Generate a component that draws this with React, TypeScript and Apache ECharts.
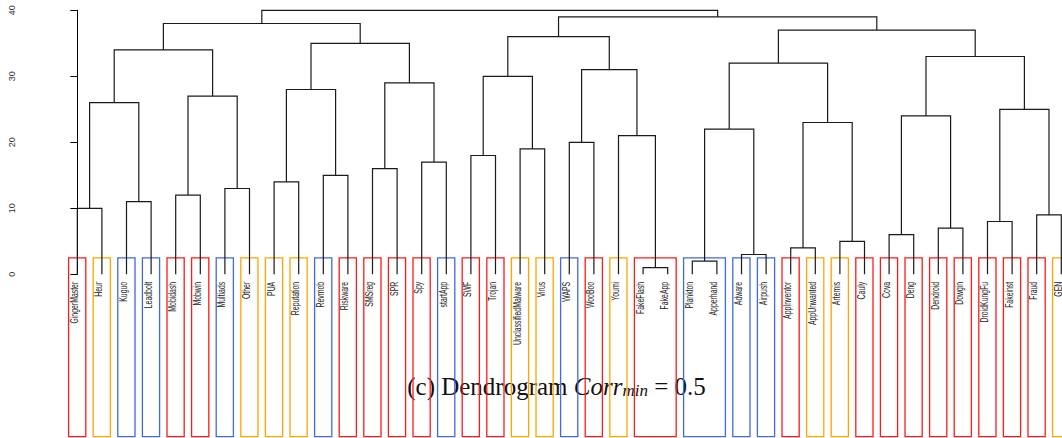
import React, { useEffect, useRef } from "react";
import * as echarts from "echarts";

// Leaves in plotting order
const leafNames = [
  "GingerMaster", "Heur", "Kuguo", "Leadbolt", "Mobidash", "Mobwin", "Multiads", "Other",
  "PUA", "Reputation", "Revmob", "Riskware", "SMSreg", "SPR", "Spy", "startApp",
  "SWF", "Trojan", "UnclassifiedMalware", "Virus", "WAPS", "WooBoo", "Youmi", "FakeFlash",
  "FakeApp", "Plankton", "Apperhand", "Adware", "Airpush", "AppInventor", "AppUnwanted", "Artemis",
  "Cauly", "Cova", "Deng", "Dendroid", "Dowgin", "DroidKungFu", "Fakeinst", "Fraud", "GEN",
];

// R-style merge matrix: negative = leaf (1-based), positive = earlier merge (1-based)
const mergeLeft = [
  -24, -26, -28, -30, -32, -34, -36, -38, -40, -1,
  -3, -5, -7, -9, -11, -13, -15, -17, -19, -21,
  -23, 2, 4, 6, 8, 10, 12, 14, 16, 18,
  20, 22, 24, 26, 28, 30, 32, 34, 36, 38,
];
const mergeRight = [
  -25, -27, -29, -31, -33, -35, -37, -39, -41, -2,
  -4, -6, -8, -10, -12, -14, -16, -18, -20, -22,
  1, 3, 5, 7, 9, 11, 13, 15, 17, 19,
  21, 23, 25, 27, 29, 31, 33, 35, 37, 39,
];
const mergeHeights = [
  1, 2, 3, 4, 5, 6, 7, 8, 9, 10,
  11, 12, 13, 14, 15, 16, 17, 18, 19, 20,
  21, 22, 23, 24, 25, 26, 27, 28, 29, 30,
  31, 32, 33, 34, 35, 36, 37, 38, 39, 40,
];

// Boxes around leaf labels: number of leaves per box and box colour key
const boxSizes = [
  1, 1, 1, 1, 1, 1, 1, 1, 1, 1, 1, 1, 1, 1, 1, 1, 1, 1, 1, 1, 1, 1, 1,
  2, 2,
  1, 1, 1, 1, 1, 1, 1, 1, 1, 1, 1, 1, 1, 1,
];
const boxColorKeys = [
  "red", "orange", "blue", "blue", "red", "red", "blue", "orange", "orange", "orange",
  "blue", "red", "red", "red", "red", "blue", "red", "red", "orange", "orange",
  "blue", "red", "orange", "red", "blue", "blue", "blue", "red", "orange", "orange",
  "red", "red", "red", "red", "red", "red", "red", "red", "orange",
];

const yTicks = [0, 10, 20, 30, 40];

const palette: Record<string, string> = {
  red: "#ff1a1a",
  orange: "#ffa500",
  blue: "#4169e1",
};

export default function App() {
  const ref = useRef<HTMLDivElement>(null);

  useEffect(() => {
    if (!ref.current) return;
    const chart = echarts.init(ref.current, null, { renderer: "svg" });

    // compute node positions (midpoint of children) from merge matrix
    const nodeX: number[] = [];
    const child = (r: number) =>
      r < 0 ? { x: -r - 1, h: 0 } : { x: nodeX[r - 1], h: mergeHeights[r - 1] };
    const treeData: number[][] = [];
    for (let k = 0; k < mergeHeights.length; k++) {
      const a = child(mergeLeft[k]);
      const b = child(mergeRight[k]);
      nodeX[k] = (a.x + b.x) / 2;
      treeData.push([a.x, a.h, b.x, b.h, mergeHeights[k]]);
    }

    const boxData: any[] = [];
    let start = 0;
    boxSizes.forEach((s, i) => {
      boxData.push([start, start + s - 1, i]);
      start += s;
    });

    const labelData = leafNames.map((n, i) => [i, 0]);

    const option: any = {
      animation: false,
      grid: { left: 77.3, right: 0.7, top: 10.3, bottom: 163.7 },
      xAxis: { type: "value", min: 0, max: 40, show: false },
      yAxis: {
        type: "value",
        min: 0,
        max: 40,
        interval: 10,
        offset: 39.6,
        axisLine: { show: true, lineStyle: { color: "#000", width: 1 } },
        axisTick: { show: true, length: 7, lineStyle: { color: "#000" } },
        axisLabel: {
          rotate: 90,
          margin: 21,
          fontSize: 9,
          color: "#333",
          fontFamily: "Liberation Sans",
          formatter: (v: number) => (yTicks.includes(v) ? String(v) : ""),
        },
        splitLine: { show: false },
      },
      series: [
        {
          type: "custom",
          clip: false,
          data: boxData,
          encode: { x: [0, 1] },
          renderItem: (params: any, api: any) => {
            const first = api.value(0);
            const last = api.value(1);
            const idx = api.value(2);
            const x0 = api.coord([first, 0])[0] - 8.7;
            const x1 = api.coord([last, 0])[0] + 8.5;
            const yTop = api.coord([0, 2.5])[1];
            const yBot = api.getHeight() - 1.3;
            return {
              type: "rect",
              shape: { x: x0, y: yTop, width: x1 - x0, height: yBot - yTop },
              style: { fill: "none", stroke: palette[boxColorKeys[idx]], lineWidth: 1.3 },
            };
          },
        },
        {
          type: "custom",
          clip: false,
          data: treeData,
          encode: { x: [0, 2], y: [1, 3, 4] },
          renderItem: (params: any, api: any) => {
            const xa = api.value(0), ha = api.value(1), xb = api.value(2), hb = api.value(3), h = api.value(4);
            const pts = [
              api.coord([xa, ha]),
              api.coord([xa, h]),
              api.coord([xb, h]),
              api.coord([xb, hb]),
            ];
            return {
              type: "polyline",
              shape: { points: pts },
              style: { fill: "none", stroke: "#1a1a1a", lineWidth: 1.2 },
            };
          },
        },
        {
          type: "custom",
          clip: false,
          data: labelData,
          encode: { x: 0, y: 1 },
          renderItem: (params: any, api: any) => {
            const i = api.value(0);
            const p = api.coord([i, 0]);
            return {
              type: "text",
              x: p[0] - 3,
              y: p[1] + 7.5,
              rotation: Math.PI / 2,
              scaleX: 0.69,
              style: {
                text: leafNames[i],
                fontSize: 10,
                fontFamily: "Liberation Sans",
                fill: "#222",
                align: "right",
                verticalAlign: "middle",
              },
            };
          },
        },
      ],
      graphic: [
        {
          type: "text",
          x: 556.5,
          y: 384,
          style: {
            text: "{n|(c) Dendrogram }{i|Corr}{s|min}{n| = 0.5}",
            align: "center",
            verticalAlign: "middle",
            rich: {
              n: { fontSize: 25, fontFamily: "Liberation Serif", fill: "#111", lineHeight: 30, verticalAlign: "bottom" },
              i: { fontSize: 25, fontFamily: "Liberation Serif", fontStyle: "italic", fill: "#111", lineHeight: 30, verticalAlign: "bottom" },
              s: { fontSize: 17, fontFamily: "Liberation Serif", fontStyle: "italic", fill: "#111", lineHeight: 13, verticalAlign: "bottom" },
            },
          },
        },
      ],
    };
    chart.setOption(option);
    return () => chart.dispose();
  }, []);

  return (
    <div
      ref={ref}
      style={{ position: "absolute", left: 0, top: 0, width: 1062, height: 438, background: "#fff" }}
    />
  );
}
